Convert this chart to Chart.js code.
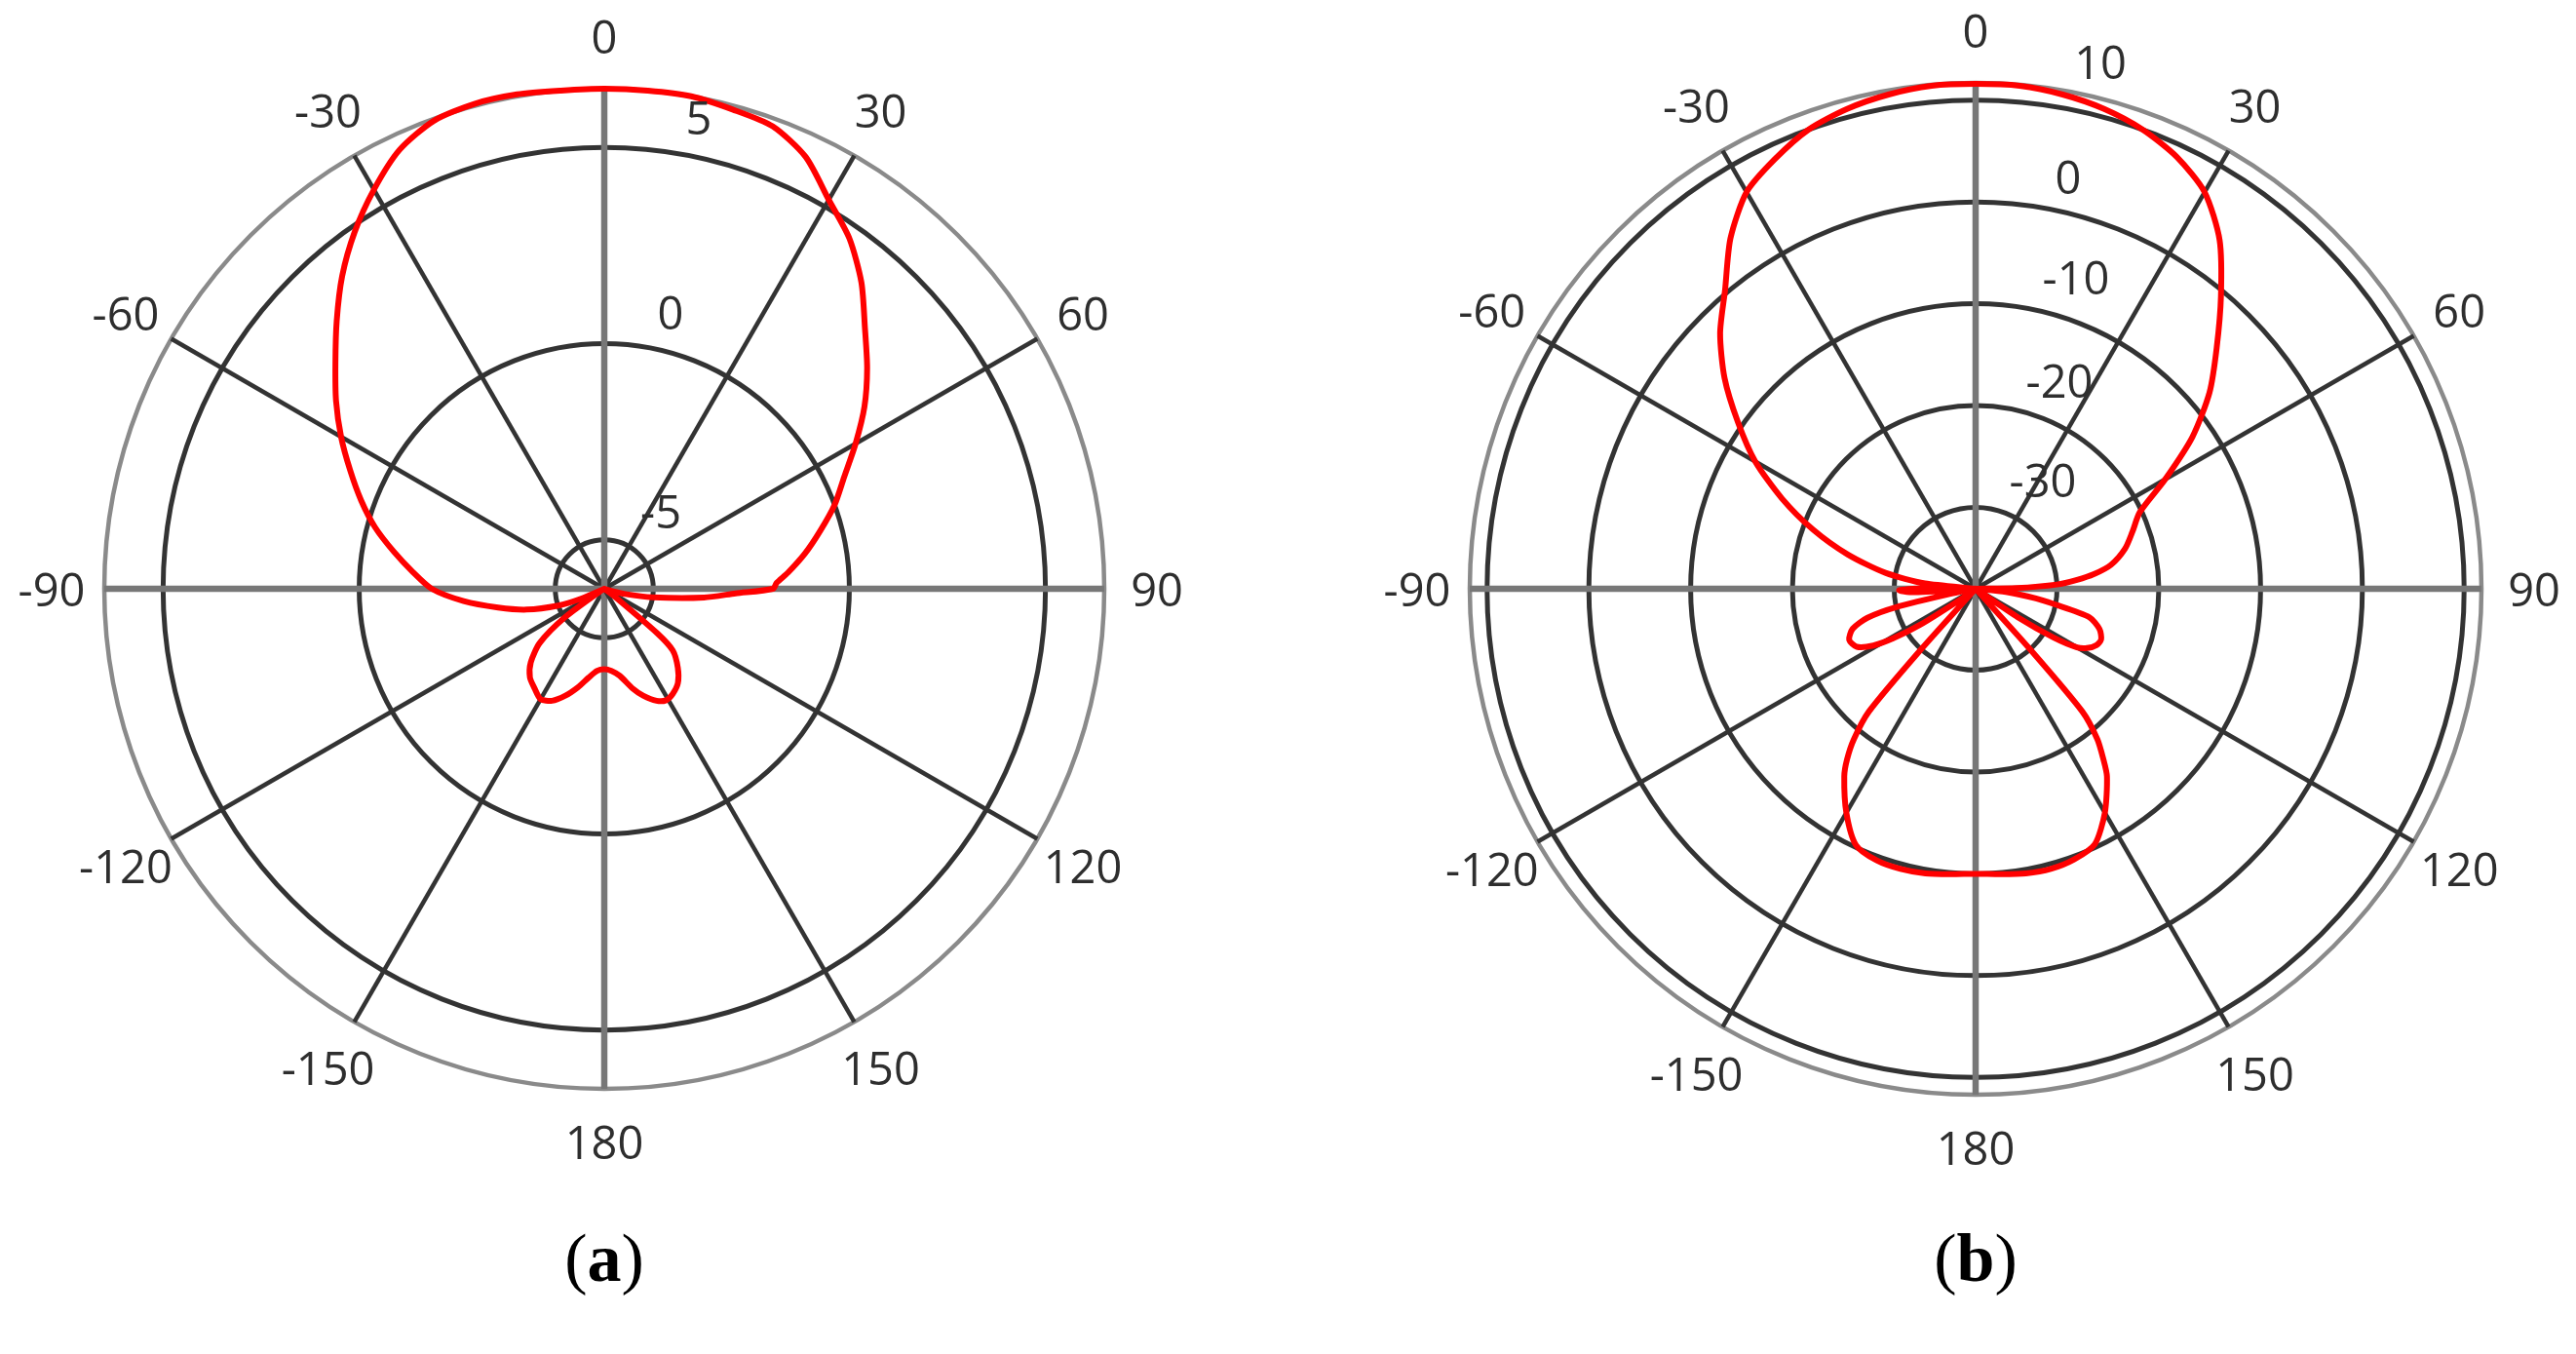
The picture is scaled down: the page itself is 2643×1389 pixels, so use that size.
<!DOCTYPE html>
<html>
<head>
<meta charset="utf-8">
<script src="https://cdn.jsdelivr.net/npm/chart.js@4.4.1/dist/chart.umd.min.js"></script>
<style>
  html, body { margin: 0; padding: 0; background: #fff; }
  body { width: 2643px; height: 1389px; position: relative; overflow: hidden; }
  canvas { position: absolute; }
  #chartA { left: -3px; top: -19px; }
  #chartB { left: 1398px; top: -25px; }
  .caption {
    position: absolute; top: 1256px; width: 200px; text-align: center;
    font-family: "Liberation Serif", "Times New Roman", serif;
    font-size: 70px; line-height: 70px; color: #000;
  }
</style>
</head>
<body>
<canvas id="chartA" width="1246" height="1246"></canvas>
<canvas id="chartB" width="1258" height="1258"></canvas>
<div class="caption" style="left:520px">(<b>a</b>)</div>
<div class="caption" style="left:1927px">(<b>b</b>)</div>

<script>
// angoli in gradi: 0 in alto, senso orario, da -180 a 180
const angleTicks = [0, 30, 60, 90, 120, 150, 180, -150, -120, -90, -60, -30];

// (a) diagramma di radiazione, dB
const anglesA = [-175, -170, -165, -160, -155, -150, -145, -140, -135, -130, -126, -122, -118, -116,
  -113, -110, -105, -100, -95, -90, -85, -80, -75, -70, -65, -60, -55, -50, -45, -40, -35, -30,
  -25, -20, -15, -10, -5, 0, 5, 10, 15, 20, 25, 30, 35, 40, 45, 50, 55, 60, 65, 70, 75, 80, 85,
  88, 90, 92, 95, 100, 104, 108, 110, 125, 127, 130, 132, 137, 142, 147, 151, 155, 160, 164,
  170, 175, 180];
const gainA = [-4.15, -3.95, -3.65, -3.35, -3.1, -3.0, -3.15, -3.3, -3.6, -4.1, -5.0, -6.1, -6.25, -6.25,
  -5.6, -5.0, -4.2, -3.5, -2.65, -1.85, -1.35, -0.8, -0.2, 0.35, 0.9, 1.5, 2.1, 2.7, 3.4, 4.15, 4.85, 5.5,
  6.1, 6.45, 6.55, 6.55, 6.5, 6.5, 6.5, 6.5, 6.4, 6.3, 5.9, 5.2, 4.65, 3.95, 3.15, 2.5, 1.85, 1.15, 0.5, 0.0, -0.55, -1.05, -1.55,
  -1.85, -1.95, -2.9, -3.7, -5.0, -5.7, -6.15, -6.25, -6.25, -5.9, -4.5, -3.9, -3.5, -3.2, -3.05, -3.0, -3.1, -3.35, -3.6,
  -4.0, -4.15, -4.2];
const ringsA = [-5, 0, 5, 6.5];
const tickLabelsA = [-5, 0, 5];

// (b) diagramma di radiazione, dB
const anglesB = [-175, -170, -165, -160, -155, -150, -145, -143, -141, -139, -138, -137, -127, -125,
  -123, -121, -119, -116, -112, -108, -105, -103, -101, -99, -97, -95, -93, -91, -89, -87, -84,
  -80, -75, -70, -65, -60, -55, -50, -45, -40, -35, -30, -25, -20, -15, -10, -5, 0, 5, 10, 15,
  20, 25, 30, 35, 40, 45, 50, 55, 60, 65, 70, 75, 80, 83, 85, 87, 89, 91, 94, 96, 99, 101, 104,
  108, 112, 115, 118, 120, 122, 124, 126, 137, 138, 139, 141, 143, 145, 150, 155, 160, 165, 170,
  175, 180];
const gainB = [-9.85, -9.6, -9.5, -9.6, -10.2, -12.6, -15.5, -17, -19, -22, -30, -38, -38, -36,
  -31.5, -28.5, -26.5, -25, -24.6, -25.3, -27, -30, -36, -38, -38, -36, -31.5, -30.5, -34, -38, -33,
  -29, -25, -21, -17, -13, -9.5, -5.8, -2.5, 0.3, 4.0, 7.0, 8.6, 10.0, 10.8, 11.3, 11.6, 11.6, 11.6, 11.3, 10.8,
  10.0, 8.8, 7.0, 3.8, -0.5, -4.5, -8.0, -12, -16.5, -20.2, -21.6, -22.8, -24.5, -26.3, -28, -30, -34, -38, -38, -35, -32, -30.2, -26.5,
  -25.2, -24.7, -24.9, -25.6, -26.5, -29, -33, -38, -38, -30, -22, -19, -17.2, -15.5, -12.6, -10.3, -9.7, -9.5, -9.6,
  -9.85, -10];
const ringsB = [-30, -20, -10, 0, 10, 11.7];
const tickLabelsB = [-30, -20, -10, 0, 10];

// 360 etichette, una per grado
const labels = [];
for (let i = 0; i < 360; i++) labels.push(String(i));

function buildSeries(angles, gains) {
  let arr = new Array(360).fill(null);
  angles.forEach((a, i) => { arr[(a + 360) % 360] = gains[i]; });
  return arr;
}

// scritte degli angoli e dei valori sui cerchi
const polarLabels = {
  id: 'polarLabels',
  afterDraw(chart, args, opts) {
    const r = chart.scales.r;
    const ctx = chart.ctx;
    ctx.save();
    ctx.fillStyle = '#2e2e2e';
    ctx.font = '47px "Open Sans", "Noto Sans", sans-serif';
    ctx.textAlign = 'center';
    ctx.textBaseline = 'middle';
    angleTicks.forEach(a => {
      let p = r.getPointPosition((a + 360) % 360, r.drawingArea + opts.gap);
      ctx.fillText(String(a), p.x, p.y + 5);
    });
    opts.ticks.forEach((t, i) => {
      let p = r.getPointPosition(0, r.getDistanceFromCenterForValue(t));
      ctx.fillText(String(t), p.x + opts.offsets[i][0], p.y + opts.offsets[i][1] + 5);
    });
    ctx.restore();
  }
};

function polarChart(id, series, min, max, rings, tickVals, offsets) {
  return new Chart(document.getElementById(id), {
    type: 'radar',
    data: {
      labels: labels,
      datasets: [{
        data: series,
        borderColor: '#ff0000',
        borderWidth: 6,
        borderJoinStyle: 'round',
        pointRadius: 0,
        pointHoverRadius: 0,
        fill: false,
        spanGaps: true,
        tension: 0.25
      }]
    },
    options: {
      responsive: false,
      animation: false,
      layout: { padding: 110 },
      plugins: {
        legend: { display: false },
        tooltip: { enabled: false },
        polarLabels: { gap: 54, ticks: tickVals, offsets: offsets }
      },
      scales: {
        r: {
          min: min,
          max: max,
          startAngle: 0,
          ticks: { display: false },
          afterBuildTicks: s => { s.ticks = rings.map(v => ({ value: v })); },
          pointLabels: { display: false },
          grid: {
            circular: true,
            color: c => c.tick.value === max ? '#8a8a8a' : '#333333',
            lineWidth: c => c.tick.value === max ? 4.5 : 5
          },
          angleLines: {
            color: c => c.index % 90 === 0 ? '#777777' : '#333333',
            lineWidth: c => c.index % 30 ? 0 : (c.index % 90 === 0 ? 6.5 : 4.5)
          }
        }
      }
    },
    plugins: [polarLabels]
  });
}

polarChart('chartA', buildSeries(anglesA, gainA), -6.25, 6.5, ringsA, tickLabelsA,
  [[58, -30], [68, -33], [97, -32]]);
polarChart('chartB', buildSeries(anglesB, gainB), -38, 11.7, ringsB, tickLabelsB,
  [[69, -29], [86, -26], [103, -28], [95, -27], [128, -40]]);
</script>
</body>
</html>
